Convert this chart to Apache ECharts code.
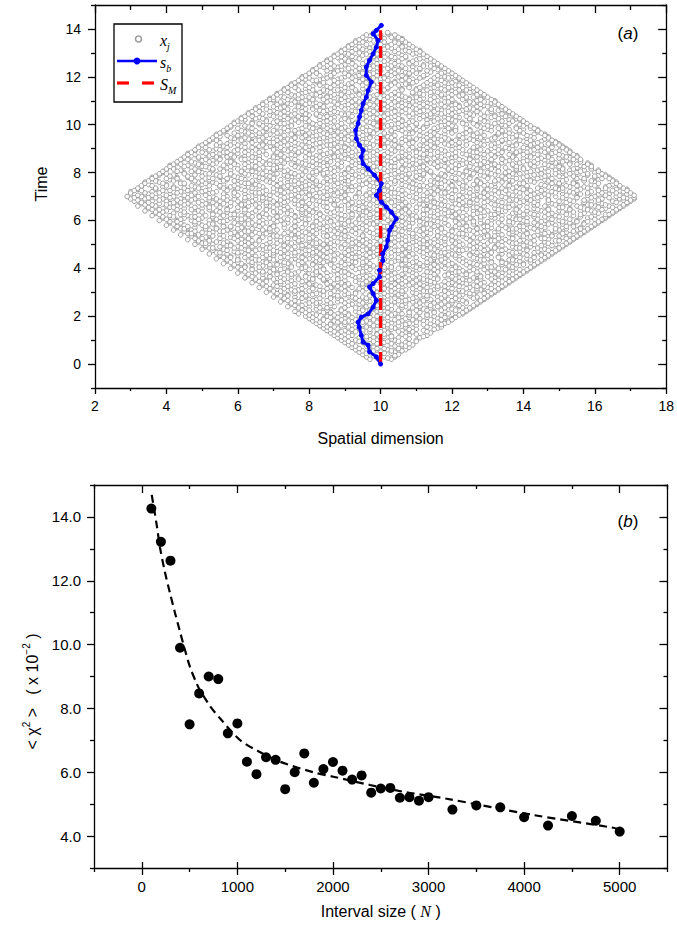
<!DOCTYPE html>
<html>
<head>
<meta charset="utf-8">
<script src="https://cdn.jsdelivr.net/npm/echarts@6/dist/echarts.min.js"></script>
<style>html,body{margin:0;padding:0;background:#fff}#c{width:677px;height:938px}</style>
</head>
<body>
<div id="c"></div>
<script>
// ---------- Panel (a): grey points x_j, rows [time*10, x*10, x*10, ...] ----------
const cloudRows = [
[2,97,103],[3,96,101,104],[4,95,99,105],[5,94,100,104],[6,93,97,102,107],[7,92,98,103,108],
[8,91,96,100,106,109],[9,90,95,101,107],[10,89,93,99,104,110],[11,88,94,98,105,111],
[12,87,92,97,103,108,113],[13,86,91,99,102,107,114],[14,85,90,95,101,106,112],
[15,84,88,94,100,104,109,116],[16,83,89,92,98,105,110,115],[17,82,86,93,97,103,108,114,118],
[18,81,87,91,96,102,106,112,119],[19,80,84,90,95,100,107,111,116,120],[20,79,85,89,94,99,104,110,115,121],
[21,77,81,88,91,97,104,106,113,119,123],[22,76,83,86,93,99,101,108,115,118,124],
[23,78,82,89,95,98,103,110,112,120,125],[24,74,80,84,87,96,100,107,111,116,122,126],
[25,75,79,85,92,94,101,105,113,117,121,127],[26,72,77,83,88,91,97,104,109,111,118,124,128],
[27,73,80,82,89,93,99,102,108,114,119,122,129],[28,70,76,79,86,92,95,101,106,110,116,121,127,130],
[29,71,74,81,87,90,97,103,105,112,117,123,126,131],[30,68,73,78,84,88,93,99,104,109,114,120,124,129,132],
[31,69,75,77,83,90,95,98,103,107,115,118,122,128,133],[32,66,72,76,81,86,92,96,101,106,111,113,119,125,130,134],
[33,67,70,78,82,87,91,97,102,108,112,117,121,126,131,135],[34,64,71,74,80,85,89,94,100,104,109,115,120,123,129,136],
[35,65,68,75,79,84,90,96,99,105,110,113,119,125,127,133,137],[36,62,67,72,77,81,88,93,98,101,107,111,116,122,126,132,138],
[37,63,69,73,79,83,86,92,97,103,106,112,118,121,128,131,136,139],[38,60,65,71,76,80,85,91,95,100,104,109,114,119,124,130,134,140],
[39,61,66,68,74,82,87,89,96,102,108,110,116,123,125,131,137,141],[40,58,64,70,73,78,84,90,94,99,105,107,113,118,122,127,133,138,142],
[41,59,62,67,75,79,83,88,92,98,103,109,112,117,121,128,132,136,143],
[42,56,61,66,71,74,81,86,91,97,100,106,111,115,120,126,129,135,140,144],
[43,57,63,68,72,77,82,85,93,96,102,104,110,116,119,124,131,134,139,145],
[44,54,60,64,69,76,80,87,90,95,101,107,113,118,123,127,130,137,141,146],
[45,55,58,65,70,73,78,84,89,94,98,103,108,112,117,122,128,133,138,143,147],
[46,52,57,62,67,74,79,83,88,92,99,105,109,114,120,125,129,134,140,145,148],
[47,54,59,61,68,71,77,82,86,93,97,101,107,111,116,119,126,131,136,139,144,149],
[48,50,56,63,66,72,75,81,87,91,96,100,106,110,115,121,124,130,135,141,146,150],
[49,51,55,60,64,70,76,80,85,89,95,102,104,112,117,120,127,132,137,142,147,151],
[50,48,53,58,65,68,73,79,84,90,94,99,103,108,113,118,123,128,133,139,143,149,152],
[51,49,54,57,62,69,74,77,83,88,93,97,104,109,114,116,122,127,134,136,141,146,153],
[52,46,52,56,61,66,71,78,82,86,92,96,101,105,111,115,120,125,131,135,140,147,150,154],
[53,48,51,58,63,67,72,76,81,87,91,98,102,107,110,117,121,126,129,137,142,145,151,155],
[54,44,49,55,60,64,70,75,80,85,89,95,100,106,112,116,119,124,130,134,139,144,148,153,156],
[55,46,50,53,59,65,68,74,79,84,90,93,97,103,108,113,118,123,128,132,138,141,147,152,157],
[56,42,47,52,57,62,67,71,77,82,86,91,96,101,105,110,114,120,125,130,136,140,145,150,155,158],
[57,43,48,54,58,61,69,73,78,83,88,94,99,104,107,112,117,122,127,131,135,142,146,151,156,159],
[58,40,45,50,56,60,65,70,76,81,87,92,95,100,106,111,116,119,124,129,134,139,144,149,154,160],
[59,41,44,49,53,59,64,68,74,79,84,89,93,98,103,109,113,118,123,128,133,137,143,148,153,157,161],
[60,38,43,47,52,57,63,67,72,77,82,86,91,97,102,105,111,115,121,126,131,136,140,146,150,155,162],
[61,39,45,50,55,58,62,69,73,78,85,88,94,99,101,107,112,117,122,125,132,138,141,147,152,158,163],
[62,36,41,46,51,56,61,66,71,76,80,87,90,95,100,104,109,114,119,124,129,134,139,144,149,154,160,164],
[63,37,42,48,53,59,64,67,74,79,83,86,92,98,103,108,112,118,121,127,133,137,142,148,152,157,161,165],
[64,34,40,44,49,54,60,65,70,75,81,85,91,96,101,106,110,116,120,126,130,135,141,145,150,156,159,166],
[65,35,39,45,50,57,62,68,72,77,82,88,93,97,102,107,113,117,123,128,132,138,143,147,153,158,163,167],
[66,32,37,43,47,52,58,63,69,73,79,84,89,94,99,104,108,114,119,124,129,134,139,146,151,155,160,164,168],
[67,33,38,41,46,51,56,61,66,71,76,80,87,92,96,101,105,111,116,121,127,131,136,141,148,153,157,162,169],
[68,31,36,40,45,50,55,60,64,70,74,78,83,90,95,100,103,109,115,118,125,130,133,140,144,150,154,159,165,170],
[69,30,34,39,44,48,54,59,65,69,75,81,85,91,97,102,106,112,117,122,126,132,137,142,147,152,158,162,167,171],
[70,29,33,38,42,49,53,57,63,67,72,77,82,88,93,98,104,108,113,119,124,128,134,139,145,149,155,160,166,170],
[71,31,35,41,46,51,56,62,68,71,76,80,86,90,96,101,107,110,115,120,127,131,136,143,146,151,156,161,164,169],
[72,30,36,40,44,50,54,59,64,70,74,79,84,89,94,99,103,109,114,118,123,129,133,138,144,148,153,159,163,168],
[73,32,37,43,47,52,57,61,66,72,77,82,87,91,97,100,105,111,116,121,125,130,135,140,146,150,156,161,166,169],
[74,33,39,42,48,55,58,63,67,73,78,81,88,92,98,102,108,113,117,124,127,132,138,141,147,153,157,163,167],
[75,35,40,45,50,56,60,65,71,76,80,85,90,95,101,106,110,114,120,126,130,136,139,145,150,155,159,165],
[76,34,38,44,49,53,61,64,69,74,79,84,89,96,99,104,109,115,119,123,128,134,140,143,149,154,160,166],
[77,37,41,47,52,57,62,66,72,78,81,87,91,97,102,106,112,117,121,127,133,136,142,146,152,157,161,165],
[78,36,43,46,52,55,60,66,70,75,80,86,90,94,100,105,110,116,120,125,130,135,140,145,151,156,160,164],
[79,38,42,48,54,58,63,68,73,78,84,89,93,98,103,108,112,118,123,128,132,138,143,147,152,158,163],
[80,39,45,50,55,61,65,69,75,81,85,90,96,101,106,110,114,121,125,130,135,141,145,150,155,160],
[81,40,44,49,53,58,64,70,74,79,83,88,94,99,104,107,113,119,124,127,133,138,144,149,153,157,161],
[82,42,47,52,57,62,67,71,77,82,87,91,96,100,106,111,116,121,126,129,135,140,146,151,155,159],
[83,41,46,50,56,60,65,70,76,80,85,92,95,103,108,112,117,122,128,132,137,142,147,150,156,159],
[84,43,48,54,59,63,68,73,78,84,89,94,99,104,109,114,119,124,130,134,139,144,149,153,158],
[85,44,50,53,58,64,69,72,79,83,88,93,97,102,107,113,118,123,127,131,136,141,146,152,156],
[86,45,49,55,61,66,71,75,81,86,90,95,100,105,111,115,120,125,129,134,140,145,150,154],
[87,47,52,57,62,66,70,76,82,87,92,98,101,106,110,116,121,126,132,137,142,147,151,155],
[88,46,51,55,60,65,72,77,80,85,91,96,103,108,113,117,123,128,133,138,143,148,153],
[89,48,53,59,63,67,74,78,83,89,93,99,104,110,114,118,125,130,134,139,145,150,153],
[90,50,54,60,65,70,75,81,86,91,96,100,106,111,116,121,126,131,136,141,146,152],
[91,49,56,61,66,69,76,80,84,90,95,101,105,112,115,120,127,133,137,142,148,151],
[92,51,57,62,67,72,77,82,87,92,97,103,108,113,118,122,128,132,138,143,147,150],
[93,52,58,64,68,73,79,85,88,94,99,104,109,114,120,124,129,134,140,145,149],
[94,53,59,63,70,74,80,83,90,95,100,106,110,115,119,125,131,135,141,146],
[95,55,60,66,71,76,81,86,91,97,102,107,112,117,122,127,132,138,142,147],
[96,54,61,65,69,75,79,85,92,96,101,108,113,118,123,126,133,137,143,146],
[97,56,62,67,72,78,82,88,93,98,103,109,114,120,124,128,134,139,144],
[98,57,63,68,74,77,83,87,94,99,105,110,116,121,125,130,136,140,144],
[99,58,63,71,74,80,87,90,96,101,105,112,116,121,128,131,138,142],
[100,60,66,68,75,82,85,92,98,103,107,110,118,124,127,134,139],
[101,59,64,70,77,79,86,93,97,100,108,114,117,123,130,133,140],
[102,62,68,73,76,83,89,91,99,104,106,113,120,125,129,136,139],
[103,61,66,72,78,84,87,94,98,103,109,115,118,122,131,134,138],
[104,64,69,75,80,82,90,95,101,105,111,113,119,126,132,137],
[105,63,71,74,79,86,88,96,100,107,110,116,121,124,130,136],
[106,66,70,76,83,85,92,97,102,104,112,117,123,127,133,135],
[107,65,72,78,81,87,94,99,103,109,114,119,125,128,134],
[108,68,73,77,84,90,93,98,105,108,115,120,122,129,133],
[109,67,74,80,82,88,95,101,106,111,113,121,126,131],
[110,70,75,79,86,91,96,99,107,110,116,119,127,132],
[111,69,77,81,87,89,97,103,108,112,118,124,128],
[112,72,76,83,85,92,98,101,106,114,117,122,129],
[113,71,78,82,88,94,96,104,109,111,119,123,127],
[114,74,80,84,90,93,100,105,112,115,120,126],
[115,73,79,86,89,95,102,106,110,117,121,125],
[116,76,81,85,92,97,100,108,113,118,124],
[117,75,83,87,91,98,103,107,114,119,123],
[118,77,82,89,94,96,104,110,115,121],
[119,79,84,88,95,100,106,109,116,122],
[120,78,86,90,93,101,105,112,118,120],
[121,80,85,91,97,102,108,113,119],
[122,82,87,92,99,103,107,114,118],
[123,81,89,94,98,104,111,116],
[124,84,88,95,100,106,109,117],
[125,83,90,96,101,105,112,116],
[126,86,92,97,103,108,114],
[127,85,91,99,102,110,113],
[128,88,93,98,104,107,112],
[129,87,95,100,106,111],
[130,90,94,101,105,110],
[131,89,96,99,107,111],
[132,92,97,103,108],
[133,91,99,102,106],
[134,94,100,105],
[135,93,98,104],
[136,96,101,106],
[137,97,103],
[138,98,102]
];
const cloudRowsB = [
[2.5,99,102],[3.5,98,104],[4.5,96,101,103],[5.5,95,98,103,106],[6.5,94,99,101,105],
[7.5,93,96,100,104,107],[8.5,92,97,99,103,108],[9.5,91,94,98,102,105,110],[10.5,90,96,100,103,108],
[11.5,89,91,96,101,103,107,112],[12.5,88,95,99,101,106,110],[13.5,87,89,93,97,100,105,109,113],
[14.5,86,92,97,99,103,108,110,115],[15.5,85,87,91,96,102,103,107,113,117],[16.5,84,86,90,95,100,102,107,112,117],
[17.5,83,88,90,95,99,101,105,110,116,119],[18.5,82,84,89,93,98,100,104,109,114,117,120],
[19.5,81,86,88,92,97,102,105,108,113,118,121],[20.5,80,82,87,91,96,101,103,108,113,117,122],
[21.5,79,84,86,90,94,100,102,108,111,115,121,123],[22.5,78,80,85,89,95,97,100,105,110,113,117,121,124],
[23.5,77,83,85,90,93,98,102,106,109,114,118,123,125],[24.5,76,78,82,86,91,97,99,103,106,110,114,119,122,126],
[25.5,75,80,82,86,90,95,100,102,107,111,115,120,124,127],[26.5,74,76,81,85,89,94,96,100,105,107,112,116,120,123,128],
[27.5,73,78,83,86,88,93,96,100,104,109,113,117,121,126,129],[28.5,72,74,79,84,88,91,97,99,102,107,111,113,118,122,125,130],
[29.5,71,76,78,82,86,91,93,98,101,106,110,115,119,121,125,129,131],[30.5,70,72,76,80,84,87,90,95,100,103,106,112,114,118,123,127,132],
[31.5,69,73,78,81,85,89,94,96,101,104,109,111,116,120,124,127,131,133],[32.5,68,71,74,79,83,88,90,95,97,103,105,110,116,118,122,127,129,134],
[33.5,67,72,76,80,85,87,91,95,100,104,106,111,114,119,124,128,133,135],[34.5,66,68,72,78,81,86,88,93,96,98,103,107,112,114,118,122,127,132,136],
[35.5,65,70,73,77,81,84,88,94,97,101,103,108,112,116,121,123,128,131,135,137],[36.5,64,69,75,79,83,85,90,94,96,102,105,109,114,120,124,128,130,134,138],
[37.5,63,67,71,75,81,82,88,91,95,100,101,106,110,115,119,124,127,133,137,139],[38.5,62,67,69,74,77,82,89,90,95,99,102,107,113,116,121,122,127,132,136,140],
[39.5,61,64,70,72,79,80,84,88,93,97,101,103,107,111,115,120,126,129,135,139,141],[40.5,60,62,66,69,75,79,82,87,92,96,101,103,110,114,116,121,125,130,131,137,142],
[41.5,59,64,69,71,73,77,81,86,90,95,100,106,108,113,115,119,124,127,134,138,140,143],
[42.5,58,60,64,68,73,78,83,84,89,93,95,103,107,109,113,118,123,125,131,134,137,142,144],
[43.5,57,60,65,66,70,75,79,83,87,91,100,101,105,107,114,117,122,128,129,136,137,142,145],
[44.5,56,58,62,67,72,74,78,82,85,92,93,97,100,105,110,115,121,126,131,133,139,143,146],
[45.5,55,60,63,68,70,76,81,87,91,96,100,101,106,115,119,121,125,130,136,141,145,147],
[46.5,54,55,60,64,70,72,76,81,85,90,94,97,103,107,112,117,118,122,127,131,137,138,143,148],
[47.5,53,57,63,65,70,73,79,80,84,91,95,99,104,105,108,113,122,123,129,133,134,141,147,149],
[48.5,52,53,59,61,68,69,74,78,83,85,89,93,98,102,108,112,114,119,126,128,132,138,139,144,150],
[49.5,51,57,58,62,67,73,78,82,87,92,97,100,107,110,116,122,125,129,134,140,145,148,151],
[50.5,50,51,56,61,63,71,75,81,82,86,92,96,101,106,111,112,115,121,126,130,137,138,142,147,152],
[51.5,49,52,60,64,66,72,77,80,85,91,95,100,102,107,112,118,120,125,131,132,139,143,149,150,153],
[52.5,48,50,55,59,63,69,74,76,80,89,90,94,99,103,109,113,118,124,128,133,137,145,146,152,154],
[53.5,47,53,56,60,62,70,71,78,84,85,90,95,100,105,109,116,120,123,130,132,140,143,148,150,155],
[54.5,46,47,52,58,61,66,68,73,77,82,88,93,98,103,104,109,114,122,123,127,136,137,141,146,151,156],
[55.5,45,48,55,56,62,63,69,76,81,87,90,92,99,101,106,111,116,120,126,129,133,137,144,149,154,157],
[56.5,44,45,51,54,60,64,69,75,80,84,89,93,95,104,108,112,117,123,127,133,137,138,143,149,152,156,158],
[57.5,43,46,51,56,58,66,70,76,81,85,90,96,101,102,108,115,121,124,129,130,139,140,145,152,154,159],
[58.5,42,48,52,53,62,63,67,73,79,83,88,90,97,98,103,107,113,114,122,126,131,136,141,147,151,157,160],
[59.5,41,43,48,55,56,61,66,71,76,82,86,91,96,99,104,106,111,116,121,126,130,136,141,145,151,155,158,161],
[60.5,40,44,49,54,60,61,70,74,79,80,89,94,95,100,108,109,113,118,124,128,134,138,139,144,148,153,160,162],
[61.5,39,42,47,48,53,59,64,66,71,76,82,84,92,97,103,106,110,115,120,123,128,131,136,143,146,150,156,159,163],
[62.5,38,44,45,53,58,59,63,68,75,78,83,89,92,97,99,105,112,116,121,126,131,132,140,143,147,152,156,163,164],
[63.5,37,39,45,50,55,57,62,70,72,78,81,87,94,96,101,106,108,114,119,122,129,133,138,139,146,151,154,160,165],
[64.5,36,38,43,47,52,57,62,68,73,78,80,88,89,94,99,104,107,112,113,118,124,128,133,138,144,147,153,158,162,166],
[65.5,35,41,42,48,52,55,60,66,70,74,79,85,91,95,100,105,110,115,120,126,127,135,136,141,150,151,156,161,165,167],
[66.5,34,36,40,45,50,54,61,65,68,71,77,82,87,91,97,101,106,112,117,122,125,132,137,143,144,149,158,159,163,168],
[67.5,33,35,42,44,49,53,58,63,68,73,78,84,85,92,94,99,103,107,113,115,123,125,129,134,139,143,147,152,157,161,166,169],
[68.5,32,38,43,47,52,57,62,67,72,76,81,86,88,98,100,105,111,113,120,122,127,136,138,142,147,153,157,161,168,170],
[69.5,31,35,37,41,46,52,56,62,67,73,79,84,89,93,95,101,105,110,114,120,123,129,131,135,141,144,151,155,159,164,168,171],
[70.5,32,36,40,45,47,51,59,60,65,69,75,80,85,87,90,96,100,102,106,112,117,122,126,130,137,142,147,152,158,163,167,171],
[71.5,30,34,38,43,48,53,59,65,66,73,78,83,88,94,97,103,104,113,117,118,125,129,133,139,141,149,154,158,162,166,170],
[72.5,31,33,39,41,46,51,57,62,68,72,76,81,86,91,92,98,101,106,111,116,121,127,132,135,142,145,151,155,161,165,169],
[73.5,32,37,42,45,49,56,60,64,70,75,79,85,90,94,100,103,109,115,119,123,127,134,137,144,149,151,158,163,168],
[74.5,33,36,40,47,52,55,59,66,71,74,79,83,87,93,97,102,107,111,112,120,123,129,131,136,141,146,152,155,160,164,167],
[75.5,34,39,44,45,51,54,62,63,70,72,77,82,88,91,96,99,104,109,116,117,122,128,132,139,140,148,150,154,161,166],
[76.5,35,37,42,48,50,56,59,64,68,75,76,82,86,91,94,101,104,108,114,118,124,127,132,137,142,147,151,157,159,165],
[77.5,36,40,43,47,53,57,61,67,70,74,81,85,89,92,98,103,107,111,116,121,125,130,135,138,144,148,155,157,162,164],
[78.5,37,41,46,50,55,59,65,69,74,77,80,87,91,95,100,106,110,115,118,123,129,134,136,141,146,150,154,160,163],
[79.5,38,40,45,51,52,58,62,67,71,76,82,84,90,96,97,104,108,112,117,122,126,131,137,139,145,149,153,158,162],
[80.5,39,43,47,49,56,61,64,68,73,79,82,87,92,95,102,105,111,114,120,124,128,133,136,142,147,151,156,161],
[81.5,40,42,48,53,55,60,66,70,72,78,83,86,91,97,101,106,109,113,119,121,127,131,138,140,145,151,154,159],
[82.5,41,45,50,51,58,63,65,72,76,81,84,89,94,98,103,104,112,116,118,125,130,133,138,143,148,150,157,159],
[83.5,42,44,49,53,59,62,68,69,75,79,82,88,93,97,101,107,110,115,121,123,128,132,137,142,146,153,155,158],
[84.5,43,47,52,57,58,65,67,71,77,81,86,92,96,100,103,106,111,116,120,126,129,135,140,143,148,151,156],
[85.5,44,46,51,55,61,62,66,74,76,82,85,91,94,98,104,109,113,118,122,125,131,134,138,144,148,154,156],
[86.5,45,49,54,57,59,64,70,73,79,83,87,89,96,102,105,108,112,117,121,127,132,137,142,147,152,155],
[87.5,46,48,53,58,63,68,72,75,80,84,90,94,99,101,107,112,114,119,124,129,131,136,140,144,150,154],
[88.5,47,50,56,57,62,66,71,77,79,86,88,92,98,102,106,110,116,121,126,127,134,138,141,146,149,153],
[89.5,48,52,55,60,65,70,73,76,81,87,91,95,97,103,108,112,117,120,123,128,133,137,143,147,152],
[90.5,49,51,57,62,64,68,72,79,83,88,90,97,101,105,109,113,115,122,126,132,135,140,144,148,151],
[91.5,50,54,58,60,67,71,74,78,85,86,93,98,100,104,111,114,119,124,129,131,138,142,145,150],
[92.5,51,55,59,64,69,70,76,80,83,89,95,96,102,106,109,116,120,122,127,133,136,141,144,149],
[93.5,52,54,61,65,66,71,75,81,86,91,93,101,104,107,112,117,121,126,130,134,139,142,148],
[94.5,53,58,62,67,72,76,78,84,88,92,97,99,103,108,113,118,123,128,132,137,143,147],
[95.5,54,57,60,64,68,73,79,82,87,89,95,100,104,111,114,116,122,126,129,135,138,141,146],
[96.5,55,59,63,66,71,77,80,84,90,94,98,101,107,109,115,120,124,127,133,136,140,145],
[97.5,56,61,65,70,74,76,83,86,91,96,97,103,106,111,118,121,125,131,134,139,144],
[98.5,57,60,64,68,73,78,81,85,89,95,100,104,108,112,115,119,124,129,133,138,142,143],
[99.5,58,62,67,69,75,79,84,88,92,94,99,102,106,113,117,120,127,130,135,140,142],
[100.5,59,64,66,72,73,81,83,89,93,98,100,105,110,113,119,123,126,132,136,141],
[101.5,60,61,68,71,75,80,85,87,91,96,101,106,109,115,118,121,128,129,134,137,140],
[102.5,61,65,67,74,78,79,86,90,95,99,102,105,111,116,119,125,128,133,138,139],
[103.5,62,64,70,73,77,83,85,92,96,101,104,108,112,114,121,124,129,132,135,138],
[104.5,63,67,72,76,79,82,89,91,97,99,102,109,114,117,120,125,128,134,137],
[105.5,64,66,69,73,78,84,87,93,94,98,104,106,111,115,119,122,127,131,136],
[106.5,65,68,74,79,81,86,90,95,100,101,107,110,116,120,124,126,131,134,135],
[107.5,66,70,73,77,82,84,89,92,96,102,106,111,113,118,122,127,130,134],
[108.5,67,71,75,79,83,88,91,97,101,103,107,112,117,121,124,128,132,133],
[109.5,68,72,76,78,85,87,92,94,99,104,109,115,118,119,125,129,132],
[110.5,69,70,74,81,84,89,93,98,101,105,108,111,114,120,123,128,131],
[111.5,70,73,78,80,85,90,95,97,102,107,110,115,119,124,126,130],
[112.5,71,75,77,82,87,89,94,99,103,105,112,117,120,123,127,129],
[113.5,72,74,79,83,86,91,96,100,104,109,114,116,121,125,128],
[114.5,73,77,81,84,88,93,97,101,106,110,113,118,122,124,127],
[115.5,74,76,80,86,90,92,99,102,108,111,115,119,123,126],
[116.5,75,79,83,87,89,95,98,103,105,112,116,121,122,125],
[117.5,76,78,84,88,92,96,100,104,109,113,118,120,124],
[118.5,77,81,82,87,93,97,102,106,108,114,117,123],
[119.5,78,80,85,89,92,98,101,107,111,115,119,122],
[120.5,79,83,86,91,94,99,103,106,112,116,121],
[121.5,80,82,87,90,95,98,104,108,110,117,120],
[122.5,81,85,88,93,96,100,105,109,113,119],
[123.5,82,86,91,94,97,102,107,111,115,118],
[124.5,83,87,89,93,98,103,106,112,114,117],
[125.5,84,86,92,95,99,104,108,110,116],
[126.5,85,89,91,96,101,105,109,115],
[127.5,86,90,94,97,100,106,111,114],
[128.5,87,89,92,98,103,107,113],
[129.5,88,91,96,99,102,109,112],
[130.5,89,92,97,100,104,108,111],
[131.5,90,93,95,101,105,110],
[132.5,91,94,98,102,106,109],
[133.5,92,96,100,103,108],
[134.5,93,95,101,104,107],
[135.5,94,97,100,106],
[136.5,95,99,103,105],
[137.5,96,100,104],
[138.5,98,102]
];

// s_b path (x, time)
const sbX = [10.00,9.88,9.69,9.65,9.51,9.46,9.40,9.37,9.46,9.65,9.79,9.88,9.79,9.69,9.79,9.97,9.97,10.06,10.06,10.16,10.20,10.25,10.30,10.44,10.30,10.16,10.02,9.88,9.97,10.02,9.83,9.65,9.51,9.46,9.51,9.41,9.32,9.30,9.37,9.41,9.46,9.51,9.60,9.65,9.74,9.60,9.60,9.69,9.79,9.88,9.93,9.79,9.88,10.02];
const sbT = [0.00,0.30,0.51,0.79,0.92,1.20,1.54,1.75,1.96,2.10,2.38,2.66,2.94,3.22,3.36,3.64,3.92,4.33,4.61,4.89,5.17,5.59,5.72,6.07,6.35,6.56,6.77,7.05,7.26,7.54,7.89,8.16,8.37,8.65,8.93,9.14,9.42,9.77,10.05,10.33,10.60,10.88,11.15,11.43,11.78,12.06,12.41,12.69,12.96,13.24,13.52,13.80,13.94,14.15];
// S_M line
const smX = [10, 10];
const smT = [0, 13.95];

// ---------- Panel (b) ----------
const intervalN = [100,200,300,400,500,600,700,800,900,1000,1100,1200,1300,1400,1500,1600,1700,1800,1900,2000,2100,2200,2300,2400,2500,2600,2700,2800,2900,3000,3250,3500,3750,4000,4250,4500,4750,5000];
const chi2 = [14.26,13.22,12.63,9.90,7.50,8.47,9.00,8.92,7.22,7.53,6.33,5.94,6.47,6.39,5.47,6.00,6.59,5.67,6.10,6.32,6.05,5.77,5.90,5.36,5.49,5.51,5.20,5.22,5.11,5.22,4.83,4.96,4.90,4.59,4.33,4.63,4.48,4.14];
const fitN = [104,156,190,240,295,347,400,452,504,574,609,720,818,1027,1219,1446,1794,2004,2388,2771,3190,4096,4933,5000];
const fitChi2 = [14.69,13.75,13.05,12.30,11.61,11.00,10.40,9.83,9.30,8.78,8.57,8.05,7.69,7.01,6.66,6.33,6.00,5.86,5.60,5.37,5.17,4.66,4.26,4.20];

// tick values
const timeTicks = [0,2,4,6,8,10,12,14];
const timeMinor = [-1,1,3,5,7,9,11,13,15];
const nTicks = [0,1000,2000,3000,4000,5000];
const nMinor = [-500,500,1500,2500,3500,4500,5500];
const chiTicks = [4,6,8,10,12,14];
const chiMinor = [3,5,7,9,11,13,15];

// ---------- build ----------
const cloud = [];
cloudRows.concat(cloudRowsB).forEach(r => { for (let i = 1; i < r.length; i++) cloud.push([r[i] / 10, r[0] / 10]); });
const pair = (a, b) => a.map((v, i) => [v, b[i]]);

const FONT = 'Liberation Sans';
const SERIF = 'Liberation Serif';
const K = '#000';
const LW = 1.3;
const lineSt = { color: K, width: LW };

function tickAxis(gridIndex, position, min, max, values, len, inside, showLine) {
  return {
    type: 'value', gridIndex, position, min, max,
    axisLine: { show: showLine, onZero: false, lineStyle: lineSt },
    axisTick: { show: true, inside, length: len, customValues: values, lineStyle: lineSt },
    axisLabel: { show: false, customValues: values },
    splitLine: { show: false }
  };
}

const xAxes = [
  { // 0 top panel bottom
    type: 'value', gridIndex: 0, position: 'bottom', min: 2, max: 18, interval: 2,
    axisLine: { onZero: false, lineStyle: lineSt },
    axisTick: { inside: false, length: 6, lineStyle: lineSt },
    minorTick: { show: true, splitNumber: 2, length: 3, lineStyle: lineSt },
    axisLabel: { fontSize: 14, color: K, fontFamily: FONT, margin: 11 },
    splitLine: { show: false },
    name: 'Spatial dimension', nameLocation: 'middle', nameGap: 42,
    nameTextStyle: { fontSize: 16, color: K, fontFamily: FONT }
  },
  { // 1 top panel top mirror
    type: 'value', gridIndex: 0, position: 'top', min: 2, max: 18, interval: 2,
    axisLine: { onZero: false, lineStyle: lineSt },
    axisTick: { inside: true, length: 8, lineStyle: lineSt },
    minorTick: { show: true, splitNumber: 2, length: 5, lineStyle: lineSt },
    axisLabel: { show: false }, splitLine: { show: false }
  },
  { // 2 bottom panel main
    type: 'value', gridIndex: 1, position: 'bottom', min: -500, max: 5500,
    axisLine: { onZero: false, lineStyle: lineSt },
    axisTick: { inside: false, length: 7, customValues: nTicks, lineStyle: lineSt },
    axisLabel: { customValues: nTicks, fontSize: 15, color: K, fontFamily: FONT, margin: 11, formatter: v => String(v) },
    splitLine: { show: false },
    name: '{t|Interval size ( }{i|N}{t| )}', nameLocation: 'middle', nameGap: 35,
    nameTextStyle: { fontSize: 16, color: K, fontFamily: FONT,
      rich: { t: { fontSize: 16, color: K, fontFamily: FONT }, i: { fontSize: 16, color: K, fontFamily: SERIF, fontStyle: 'italic' } } }
  },
  tickAxis(1, 'bottom', -500, 5500, nTicks, 6, true, false),
  tickAxis(1, 'bottom', -500, 5500, nMinor, 4, false, false),
  tickAxis(1, 'top', -500, 5500, nTicks, 8, true, true),
  tickAxis(1, 'top', -500, 5500, nMinor, 4, true, false)
];

const yAxes = [
  { // 0 top panel left
    type: 'value', gridIndex: 0, position: 'left', min: -1, max: 15,
    axisLine: { onZero: false, lineStyle: lineSt },
    axisTick: { inside: false, length: 7, customValues: timeTicks, lineStyle: lineSt },
    axisLabel: { customValues: timeTicks, fontSize: 14, color: K, fontFamily: FONT, margin: 14 },
    splitLine: { show: false },
    name: 'Time', nameLocation: 'middle', nameGap: 46,
    nameTextStyle: { fontSize: 16, color: K, fontFamily: FONT, padding: [0, 0, 0, 25] }
  },
  tickAxis(0, 'left', -1, 15, timeMinor, 4, false, false),
  tickAxis(0, 'right', -1, 15, timeTicks, 8, true, true),
  tickAxis(0, 'right', -1, 15, timeMinor, 4, true, false),
  { // 4 bottom panel left
    type: 'value', gridIndex: 1, position: 'left', min: 3, max: 15,
    axisLine: { onZero: false, lineStyle: lineSt },
    axisTick: { inside: false, length: 7, customValues: chiTicks, lineStyle: lineSt },
    axisLabel: { customValues: chiTicks, fontSize: 15, color: K, fontFamily: FONT, margin: 13,
      formatter: v => Number(v).toFixed(1) },
    splitLine: { show: false },
    name: '{t|< χ}{p|2}{t| >   ( x 10}{p|−2}{t| )}', nameLocation: 'middle', nameGap: 50,
    nameTextStyle: { fontSize: 16, color: K, fontFamily: FONT, padding: [0, 30, 0, 0],
      rich: {
        t: { fontSize: 16, color: K, fontFamily: FONT, lineHeight: 22, verticalAlign: 'middle' },
        p: { fontSize: 10, color: K, fontFamily: FONT, lineHeight: 12, verticalAlign: 'top' }
      } }
  },
  tickAxis(1, 'left', 3, 15, chiMinor, 4, false, false),
  tickAxis(1, 'right', 3, 15, chiTicks, 8, true, true),
  tickAxis(1, 'right', 3, 15, chiMinor, 4, true, false)
];

const legendRich = {
  v: { fontSize: 16, fontFamily: SERIF, fontStyle: 'italic', fill: K, lineHeight: 22, verticalAlign: 'middle' },
  s: { fontSize: 10, fontFamily: SERIF, fontStyle: 'italic', fill: K, lineHeight: 10, verticalAlign: 'bottom' }
};

const option = {
  animation: false,
  backgroundColor: '#fff',
  grid: [
    { left: 95, top: 5, right: 9, bottom: 550, containLabel: false },
    { left: 94, top: 485, right: 9.5, bottom: 70, containLabel: false }
  ],
  xAxis: xAxes,
  yAxis: yAxes,
  series: [
    { name: 'x_j', type: 'scatter', xAxisIndex: 0, yAxisIndex: 0, data: cloud, symbol: 'circle', symbolSize: 4.6,
      itemStyle: { color: '#fff', borderColor: '#9c9c9c', borderWidth: 1, opacity: 1 }, silent: true },
    { name: 's_b', type: 'line', xAxisIndex: 0, yAxisIndex: 0, data: pair(sbX, sbT), symbol: 'circle', symbolSize: 5,
      showAllSymbol: true, lineStyle: { color: '#0000ff', width: 3 }, itemStyle: { color: '#0000ff' }, silent: true },
    { name: 'S_M', type: 'line', xAxisIndex: 0, yAxisIndex: 0, data: pair(smX, smT), symbol: 'none',
      lineStyle: { color: '#ff0000', width: 3.2, type: [12, 6] }, silent: true },
    { name: 'chi2', type: 'scatter', xAxisIndex: 2, yAxisIndex: 4, data: pair(intervalN, chi2), symbol: 'circle', symbolSize: 10,
      itemStyle: { color: K, opacity: 1 }, silent: true },
    { name: 'fit', type: 'line', xAxisIndex: 2, yAxisIndex: 4, data: pair(fitN, fitChi2), symbol: 'none', smooth: 0.3,
      lineStyle: { color: K, width: 2.2, type: [8, 5] }, silent: true }
  ],
  graphic: [
    { type: 'rect', shape: { x: 114, y: 24, width: 68, height: 78 }, style: { fill: '#fff', stroke: K, lineWidth: 1.3 }, z: 100 },
    { type: 'circle', shape: { cx: 138.5, cy: 39, r: 3 }, style: { fill: '#fff', stroke: '#9c9c9c', lineWidth: 1.6 }, z: 101 },
    { type: 'line', shape: { x1: 117, y1: 61, x2: 157, y2: 61 }, style: { stroke: '#0000ff', lineWidth: 2.6 }, z: 101 },
    { type: 'circle', shape: { cx: 137, cy: 61, r: 3.5 }, style: { fill: '#0000ff' }, z: 101 },
    { type: 'line', shape: { x1: 117, y1: 83, x2: 129, y2: 83 }, style: { stroke: '#ff0000', lineWidth: 3.2 }, z: 101 },
    { type: 'line', shape: { x1: 142, y1: 83, x2: 154, y2: 83 }, style: { stroke: '#ff0000', lineWidth: 3.2 }, z: 101 },
    { type: 'text', x: 160, y: 40, z: 102, style: { text: '{v|x}{s|j}', rich: legendRich, align: 'left', verticalAlign: 'middle' } },
    { type: 'text', x: 160, y: 62, z: 102, style: { text: '{v|s}{s|b}', rich: legendRich, align: 'left', verticalAlign: 'middle' } },
    { type: 'text', x: 160, y: 84, z: 102, style: { text: '{v|S}{s|M}', rich: legendRich, align: 'left', verticalAlign: 'middle' } },
    { type: 'text', x: 628, y: 33, z: 102, style: { text: '({i|a})', fontSize: 17, fontFamily: FONT, fill: K, align: 'center', verticalAlign: 'middle',
      rich: { i: { fontSize: 17, fontFamily: FONT, fontStyle: 'italic', fill: K } } } },
    { type: 'text', x: 628, y: 521, z: 102, style: { text: '({i|b})', fontSize: 17, fontFamily: FONT, fill: K, align: 'center', verticalAlign: 'middle',
      rich: { i: { fontSize: 17, fontFamily: FONT, fontStyle: 'italic', fill: K } } } }
  ]
};

const chart = echarts.init(document.getElementById('c'), null, { renderer: 'svg', width: 677, height: 938 });
chart.setOption(option);
</script>
</body>
</html>
